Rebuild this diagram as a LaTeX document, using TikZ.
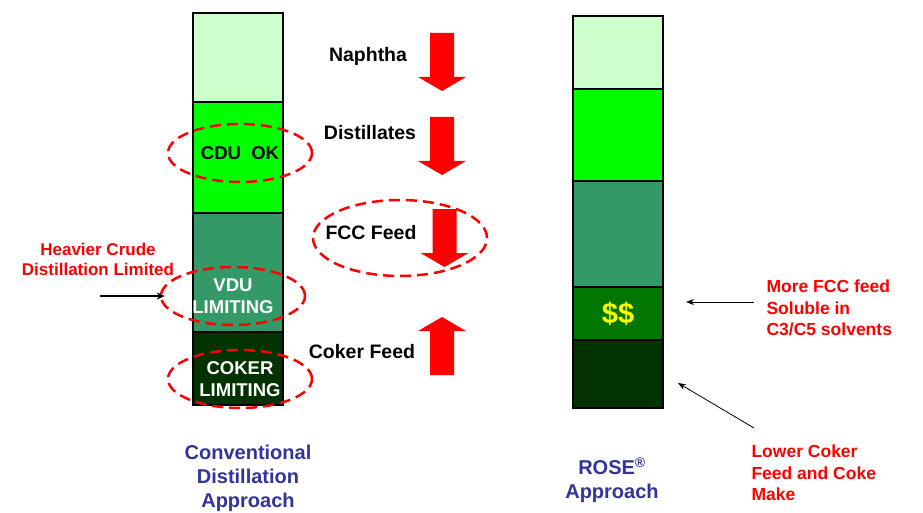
\documentclass[tikz,border=0pt]{standalone}
\usepackage{fontspec}
\setmainfont{Liberation Sans}
\usetikzlibrary{shapes.geometric, arrows.meta, positioning}
\definecolor{palegreen}{HTML}{CCFFCC}
\definecolor{limegreen}{HTML}{00FF00}
\definecolor{seagreen}{HTML}{339966}
\definecolor{moneygreen}{HTML}{007700}
\definecolor{darkgreen}{HTML}{003300}
\definecolor{roseblue}{HTML}{333399}
\definecolor{warnred}{HTML}{FF0000}
\definecolor{moneyyellow}{HTML}{FFFF00}

\begin{document}
\begin{tikzpicture}[x=1pt, y=-1pt,
    band/.style={draw, line width=1.2pt, minimum width=90pt, inner sep=0pt, outer sep=0pt},
    ring/.style={ellipse, draw=warnred, line width=2.5pt, dash pattern=on 11pt off 6pt,
                 minimum width=144pt, minimum height=58pt, inner sep=0pt, align=center,
                 font=\bfseries\fontsize{18.5}{22.5}\selectfont},
    flowlabel/.style={font=\bfseries\fontsize{19.5}{22}\selectfont},
    note/.style={text=warnred, align=left, anchor=west, font=\bfseries\fontsize{17.5}{21.5}\selectfont},
    caption/.style={text=roseblue, align=center, font=\bfseries\fontsize{20}{24}\selectfont},
    pointer/.style={line width=0.8pt, -{Stealth[length=8pt, width=6pt]}},
    flow/.pic={\fill[warnred] (-12,0) -- (12,0) -- (12,44) -- (24,44) -- (0,58) -- (-24,44) -- (-12,44) -- cycle;}]
    \useasboundingbox (0,0) rectangle (923,513);

    % conventional column
    \node[band, fill=palegreen, minimum height=89pt] (convnaph) at (238,57.5) {};
    \node[band, fill=limegreen, minimum height=111pt, below=0pt of convnaph] (convdist) {};
    \node[band, fill=seagreen, minimum height=119pt, below=0pt of convdist] (convfcc) {};
    \node[band, fill=darkgreen, minimum height=73pt, below=0pt of convfcc] (convcoker) {};

    % ROSE column
    \node[band, fill=palegreen, minimum height=73pt] (rosenaph) at (618,52.5) {};
    \node[band, fill=limegreen, minimum height=92pt, below=0pt of rosenaph] (rosedist) {};
    \node[band, fill=seagreen, minimum height=106pt, below=0pt of rosedist] (rosefcc) {};
    \node[band, fill=moneygreen, minimum height=53pt, below=0pt of rosefcc, text=moneyyellow,
          font=\bfseries\fontsize{29}{30}\selectfont] (rosedao) {\$\$};
    \node[band, fill=darkgreen, minimum height=68pt, below=0pt of rosedao] (rosecoker) {};

    % product flows
    \pic at (442,33) {flow};
    \pic at (442,117) {flow};
    \pic at (444.5,209) {flow};
    \pic[rotate=180] at (442,375) {flow};
    \node[flowlabel] (naphtha) at (368,56) {Naphtha};
    \node[flowlabel] (distillates) at (370,133) {Distillates};
    \node[flowlabel] (fccfeed) at (371,233) {FCC Feed};
    \node[flowlabel] (cokerfeed) at (362,352) {Coker Feed};

    % limits
    \node[ring] (cduring) at (240,153) {CDU\ \ OK};
    \node[ring, text=white] (vduring) at (233,296) {VDU\\LIMITING};
    \node[ring, text=white] (cokering) at (240,379) {COKER\\LIMITING};
    \node[ring, minimum width=174pt, minimum height=76pt] (fccring) at (400,238) {};

    \node[text=warnred, align=center, font=\bfseries\fontsize{17}{20}\selectfont] (heavier) at (98,259) {Heavier Crude\\Distillation Limited};
    \coordinate (heavystart) at (100,296);
    \draw[line width=2pt, -{Stealth[length=8pt, width=7pt]}, shorten >=-5pt] (heavystart) -- (vduring.west);

    % ROSE notes
    \node[note] (morefcc) at (763,308) {More FCC feed\\Soluble in\\C3/C5 solvents};
    \node[note] (lowercoker) at (748,473) {Lower Coker\\Feed and Coke\\Make};
    \coordinate (morestart) at (754,302);
    \coordinate (moreend) at (686,302);
    \coordinate (lowerstart) at (754,428);
    \coordinate (lowerend) at (678,383);
    \draw[pointer] (morestart) -- (moreend);
    \draw[pointer] (lowerstart) -- (lowerend);

    % captions
    \node[caption] (convlabel) at (248,478) {Conventional\\Distillation\\Approach};
    \node[caption] (roselabel) at (612,480) {ROSE\textsuperscript{®}\\Approach};
\end{tikzpicture}
\end{document}
